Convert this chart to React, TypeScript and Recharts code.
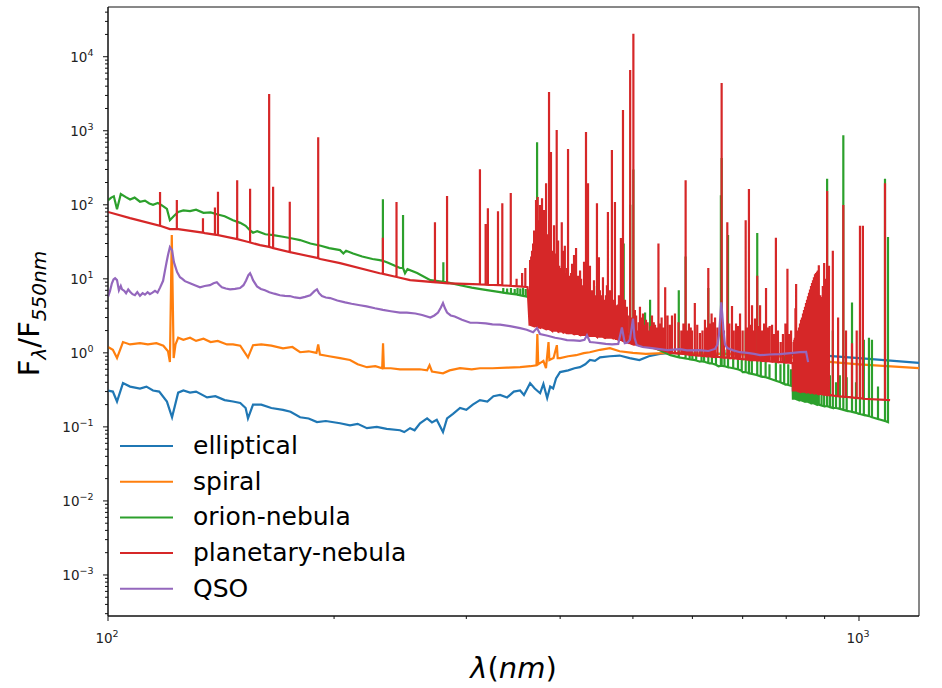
import { LineChart, Line, XAxis, YAxis, Legend, Label, ReferenceArea } from 'recharts'

// wavelength (nm), flux normalised at 550 nm
const ellipticalData: [number, number][] = [
  [100, 0.31], [101.5, 0.3], [102.8, 0.22], [104.7, 0.39], [107, 0.35], [110.3, 0.33], [112.5, 0.35],
  [114.8, 0.31], [117, 0.3], [119.8, 0.22], [121.7, 0.135], [124, 0.29], [126, 0.31], [128.6, 0.29],
  [131, 0.3], [135.5, 0.25], [139, 0.26], [143, 0.23], [146.7, 0.22], [150, 0.21], [152.5, 0.18],
  [153.6, 0.13], [156, 0.2], [160, 0.2], [165, 0.18], [171, 0.17], [175, 0.16], [180.2, 0.135],
  [185, 0.13], [189.8, 0.116], [195, 0.12], [203.7, 0.112], [210, 0.105], [215, 0.11], [221.2, 0.096],
  [228, 0.1], [235, 0.094], [244.8, 0.09], [248, 0.085], [252.5, 0.096], [256, 0.09], [260.3, 0.112],
  [266, 0.13], [270, 0.115], [274, 0.125], [279.3, 0.085], [282.8, 0.13], [288, 0.15], [294.3, 0.18],
  [300, 0.17], [306, 0.2], [312.8, 0.23], [320, 0.22], [326, 0.26], [332.7, 0.27], [340, 0.25],
  [347, 0.3], [353.8, 0.31], [358, 0.27], [364.8, 0.39], [370, 0.33], [376.2, 0.285], [380, 0.38],
  [384.4, 0.245], [388, 0.35], [391.5, 0.33], [395, 0.45], [399.9, 0.55], [410, 0.58], [418, 0.62],
  [425.1, 0.64], [432, 0.7], [438.3, 0.8], [445, 0.78], [452, 0.87], [466, 0.9], [480, 0.92],
  [495, 0.85], [510, 0.8], [525, 0.9], [543, 0.97], [560, 1.0], [600, 0.98], [650, 0.97], [700, 0.98],
  [740, 0.96], [780, 0.95], [834, 0.95], [882, 0.93], [1000, 0.85], [1202, 0.73],
]

const spiralData: [number, number][] = [
  [100, 1.2], [101.5, 1.1], [102.8, 0.85], [104.7, 1.4], [107, 1.3], [110.3, 1.35], [113, 1.3],
  [116, 1.35], [118.5, 1.25], [120.2, 1.05], [120.9, 0.75], [121.6, 39], [122.3, 0.85], [123, 1.3],
  [124, 1.6], [126, 1.5], [128.6, 1.6], [131, 1.45], [134, 1.55], [137, 1.4], [140, 1.45], [144, 1.3],
  [146.7, 1.3], [150, 1.25], [153.6, 0.87], [156, 1.27], [160, 1.3], [165, 1.25], [171, 1.15],
  [176, 1.2], [180.2, 1.02], [185, 1.05], [189.5, 1.0], [190.5, 1.3], [191.5, 0.95], [197, 0.9],
  [203.7, 0.85], [210, 0.8], [215, 0.7], [221.2, 0.64], [227, 0.66], [231.8, 0.62], [232.4, 1.35],
  [233, 0.62], [238, 0.62], [244.8, 0.6], [252, 0.6], [260, 0.6], [266, 0.58], [268, 0.68],
  [270, 0.56], [279.3, 0.53], [285, 0.58], [294.3, 0.62], [305, 0.6], [312.8, 0.62], [325, 0.62],
  [340, 0.63], [353.8, 0.64], [365, 0.66], [372, 0.68], [373, 1.8], [374, 0.7], [380, 0.78],
  [383, 0.62], [386, 1.4], [387, 0.8], [392, 0.85], [396, 1.27], [397, 0.85], [400, 0.85], [410, 0.9],
  [420, 0.93], [430, 0.99], [438, 1.02], [452, 1.1], [466, 1.16], [480, 1.05], [500, 1.0], [520, 0.97],
  [560, 1.0], [600, 0.98], [650, 0.97], [700, 0.95], [750, 0.93], [834, 0.85], [882, 0.78],
  [1000, 0.7], [1202, 0.62],
]

const orionContinuum: [number, number][] = [
  [100, 115], [101, 125], [101.8, 130], [102.8, 87], [104, 140], [105.5, 128], [107, 118],
  [108.5, 125], [110.3, 110], [112, 114], [113.5, 104], [114.8, 100], [116.5, 106], [118, 98],
  [119.8, 88], [120.9, 62], [122.3, 70], [124, 80], [126, 84], [128.6, 82], [131, 86], [134, 78],
  [137, 79], [140, 74], [143, 70], [146.7, 62], [150, 57], [152.5, 52], [154.6, 45], [156, 42],
  [158, 44], [162, 40], [166, 39], [171, 37], [176, 35], [180.2, 33.4], [186, 30], [192, 28],
  [197, 26], [203.7, 24.4], [205.8, 22], [207.5, 24], [212, 22], [218, 20], [225, 18.5], [230, 17.9],
  [236, 16.5], [241, 15], [244.8, 14], [248.6, 11.9], [250.5, 13.5], [258, 12], [268.7, 9.6],
  [275, 9.3], [285, 8.8], [294.3, 8.2], [305, 7.6], [315, 7.2], [332.7, 6.6], [364.8, 5.5],
  [400, 3.9], [438, 2.8], [476, 2.05], [511, 1.45], [535, 1.16], [561, 0.93], [614, 0.76],
  [650, 0.66], [700, 0.55], [750, 0.47], [816, 0.36], [816.6, 0.24], [900, 0.19], [1000, 0.15],
  [1093, 0.116],
]

// emission lines: [wavelength, peak, continuum under the line]
const orionLines: [number, number, number][] = [
  [232.3, 119, 17.5], [247.1, 73, 14], [279.6, 16.8, 9.1],
  [336, 7.5, 6.5], [340, 7.4, 6.4], [344, 7.5, 6.3], [348, 7.3, 6.2], [351, 7.5, 6.1], [354, 7.4, 6.0],
  [357, 7.5, 5.9], [360, 7.3, 5.8], [363, 7.2, 5.6],
  [372.7, 700, 5.1], [388.9, 20, 4.3], [395.8, 15, 4.0], [409.8, 10, 3.6], [433, 12, 2.9],
  [447.8, 8, 2.7], [478, 3.0, 2.0], [483, 3.0, 1.95], [486.1, 30, 1.9], [495.9, 100, 1.75],
  [500.7, 300, 1.65], [519, 3.5, 1.35], [527, 5.2, 1.3], [575.5, 7.0, 0.87], [587.6, 20, 0.84],
  [595, 1.85, 0.82], [600, 1.0, 0.81], [607, 0.95, 0.79], [617, 1.1, 0.77], [622, 0.95, 0.76],
  [630, 7.5, 0.73], [637, 1.0, 0.72], [645, 0.95, 0.69], [654.8, 135, 0.67], [656.3, 430, 0.67],
  [662, 1.1, 0.66], [669.3, 39, 0.64], [680, 0.9, 0.62], [690, 1.0, 0.6], [698, 0.8, 0.57],
  [706.5, 2.0, 0.55], [713.6, 1.5, 0.53], [720, 0.9, 0.52], [732, 41.5, 0.5], [740, 0.8, 0.48],
  [751, 1.2, 0.47], [760, 0.7, 0.45], [775, 1.0, 0.42], [786, 0.7, 0.4], [795, 0.9, 0.38],
  [805, 0.7, 0.37], [812, 0.6, 0.36],
  [819.7, 0.6, 0.24], [822.6, 0.5, 0.24], [826.9, 0.7, 0.235], [832, 0.5, 0.23], [837.1, 0.8, 0.23],
  [842.2, 0.6, 0.225], [847.4, 0.9, 0.22], [852.6, 0.7, 0.22], [857.9, 1.0, 0.215], [863.2, 0.8, 0.21],
  [868.4, 1.2, 0.21], [873.8, 0.9, 0.205], [879.2, 1.5, 0.2], [884.1, 0.8, 0.2], [891.5, 0.6, 0.195],
  [898.7, 1.3, 0.19], [906.9, 225, 0.19], [914.6, 0.5, 0.185], [922.9, 2.0, 0.18], [932, 0.4, 0.18],
  [943, 0.5, 0.175], [953.1, 870, 0.17], [963, 0.47, 0.165], [978.8, 4.8, 0.16], [990.8, 0.4, 0.155],
  [1003, 2.0, 0.15], [1015, 1.5, 0.145], [1031, 1.6, 0.14], [1040.6, 1.5, 0.135], [1060, 0.35, 0.128],
  [1083, 225, 0.12], [1093, 36.6, 0.116],
]

const planetaryContinuum: [number, number][] = [
  [100, 80], [107, 66], [117.3, 52], [120.9, 47], [124, 47], [134.6, 41.5], [148.6, 34.4],
  [159.4, 28.5], [174.6, 23], [191.7, 18.5], [203.7, 16.3], [230, 11.9], [252.5, 9.6], [285.3, 8.7],
  [332.7, 8.2], [362, 7.7], [364.2, 2.4], [408, 1.85], [476, 1.58], [527, 1.2], [560, 1.0],
  [650, 0.88], [816, 0.73], [816.6, 0.31], [1100, 0.23],
]

const planetaryLines: [number, number, number][] = [
  [117.3, 149, 52], [123.5, 116, 47], [133.8, 66, 42], [138.8, 92, 39.5], [140.1, 150, 39],
  [148.6, 215, 34.4], [154.6, 165, 31], [163.9, 3140, 27], [165.9, 175, 26], [174.6, 110, 23],
  [190.5, 820, 19], [232.3, 36, 11.7], [242.2, 109, 10.6], [272.5, 58, 9.0], [282.8, 131, 8.7],
  [312.8, 303, 8.4], [318.3, 55, 8.35], [320.5, 90, 8.3], [330.6, 82, 8.2], [335, 105, 8.15],
  [343.8, 144, 8.05], [350, 10, 7.95], [356, 12, 7.85], [359.5, 14, 7.8],
  [364.8, 17.9, 2.4], [367, 24, 2.35], [369.3, 45, 2.3], [371.5, 116, 2.3], [373.4, 127, 2.25],
  [374.5, 62, 2.25], [376.1, 99, 2.2], [378.4, 123, 2.2], [380.8, 85, 2.15], [383.1, 196, 2.1],
  [385, 40, 2.1], [386.6, 3330, 2.1], [388.9, 515, 2.05], [390.2, 24, 2.0], [392.6, 53, 2.0],
  [395.8, 1020, 2.0], [397.5, 33, 1.95], [399.9, 13, 1.95], [402, 58, 1.95], [403.6, 24, 1.9],
  [405.8, 28, 1.9], [409.8, 566, 1.85], [412.4, 9.6, 1.85], [414.9, 16, 1.85], [417.4, 21, 1.8],
  [420, 26, 1.8], [422.6, 11, 1.8], [425.2, 13, 1.75], [427.8, 8.2, 1.75], [430.4, 17, 1.75],
  [433, 960, 1.75], [435.7, 196, 1.7], [438.3, 15, 1.7], [441, 7, 1.7], [443.7, 9.6, 1.7],
  [446.4, 5.2, 1.7], [447.8, 105, 1.65], [450.5, 19.6, 1.65], [453.3, 6, 1.65], [456.1, 10.5, 1.65],
  [458.9, 5.2, 1.6], [461.7, 8.2, 1.6], [463.1, 80, 1.6], [466, 7, 1.6], [468.8, 550, 1.6],
  [471.7, 5.2, 1.58], [473.2, 109, 1.58], [476.1, 4.4, 1.55], [479, 6, 1.5], [481.9, 35.5, 1.5],
  [485, 1900, 1.45], [488, 5.2, 1.42], [490.8, 4.2, 1.4], [495.8, 6600, 1.35], [500.7, 20400, 1.3],
  [503, 3.8, 1.3], [507.7, 2.0, 1.28], [510.9, 4.2, 1.27], [515.6, 3.4, 1.25], [520.4, 2.8, 1.22],
  [525.2, 2.0, 1.2], [530.1, 3.2, 1.18], [535, 2.4, 1.15], [540.7, 30, 1.12], [546, 3.0, 1.1],
  [552, 7.7, 1.06], [556, 3.2, 1.04], [563.6, 3.2, 1.0], [568.8, 3.4, 0.99], [583.7, 2.5, 0.97],
  [587.7, 215, 0.96], [593.6, 2.5, 0.95], [599.3, 2.0, 0.94], [604.5, 4.7, 0.93], [614.1, 1.85, 0.92],
  [618.8, 2.0, 0.91], [623.6, 2.8, 0.91], [630, 14, 0.9], [632.6, 2.5, 0.9], [636.4, 3.4, 0.89],
  [643.2, 3.0, 0.88], [656.3, 4400, 0.87], [667.8, 58, 0.86], [677.5, 4.3, 0.85], [685.9, 2.5, 0.84],
  [694.4, 3.4, 0.83], [706.5, 62, 0.82], [713.6, 163, 0.81], [720.4, 4.4, 0.8], [727, 2.9, 0.8],
  [732, 11, 0.79], [738.4, 4.4, 0.79], [747.5, 2.5, 0.78], [752, 7.5, 0.77], [760.5, 2.3, 0.77],
  [775.1, 36, 0.76], [786.4, 1.4, 0.75], [803, 13.7, 0.74],
  [818.5, 1.4, 0.31], [821.5, 1.6, 0.31], [824.7, 8.5, 0.31], [826.9, 1.7, 0.31], [832, 2.2, 0.305],
  [837.1, 2.8, 0.3], [842.2, 3.4, 0.3], [847.4, 4.2, 0.3], [852.6, 5.2, 0.295], [857.9, 6.5, 0.295],
  [863.2, 8, 0.29], [868.4, 9.6, 0.29], [873.8, 11.5, 0.285], [879.2, 12.5, 0.285], [884.1, 15.3, 0.28],
  [891.5, 5.7, 0.28], [898.7, 16.3, 0.275], [906.9, 153, 0.27], [912, 15, 0.27], [922.9, 24, 0.265],
  [938, 3, 0.26], [953.1, 99, 0.255], [961, 2, 0.255], [978.8, 1.35, 0.25], [993, 2, 0.245],
  [1003, 52, 0.245], [1012, 52, 0.24], [1083, 196, 0.232],
]

// the weaker, densely packed lines that fill the optical and Paschen forests
const planetaryWeakLines: [number, number, number][] = [
  [366, 20, 2.37], [368.2, 30, 2.32], [370.4, 40, 2.3], [372.5, 60, 2.28], [375.3, 45, 2.22],
  [377.2, 50, 2.2], [379.6, 40, 2.18], [382, 35, 2.12], [384, 30, 2.1], [387.7, 25, 2.07],
  [389.6, 20, 2.03], [391.4, 18, 2.0], [394, 22, 2.0], [396.7, 18, 1.98], [398.7, 15, 1.95],
  [401, 14, 1.95], [402.8, 12, 1.92], [404.7, 15, 1.9], [407, 12, 1.88], [408.6, 14, 1.86],
  [411, 11, 1.85], [413.7, 12, 1.85], [416.2, 10, 1.82], [418.7, 12, 1.8], [421.3, 10, 1.8],
  [423.9, 9, 1.78], [426.5, 10, 1.75], [429.1, 8, 1.75], [431.7, 9, 1.75], [434.4, 8, 1.72],
  [437, 9, 1.7], [439.6, 7, 1.7], [442.3, 6.5, 1.7], [445, 6, 1.7], [449.2, 6, 1.65],
  [451.9, 7, 1.65], [454.7, 5.5, 1.65], [457.5, 5, 1.62], [460.3, 6, 1.6], [462.4, 4.5, 1.6],
  [464.5, 6, 1.6], [467.4, 4.5, 1.6], [470.2, 5, 1.58], [474.6, 4, 1.56], [477.5, 4.5, 1.52],
  [480.4, 3.8, 1.5], [483.4, 4.2, 1.48], [486.6, 3.5, 1.44], [489.3, 3.6, 1.41], [492.3, 3.2, 1.38],
  [498.4, 3.0, 1.32], [505, 3.2, 1.29], [509, 2.6, 1.27], [513, 3.0, 1.26], [518, 2.4, 1.23],
  [523, 2.6, 1.21], [528, 2.3, 1.19], [533, 2.6, 1.16], [538, 2.2, 1.13], [543, 2.5, 1.11],
  [549, 2.2, 1.08], [560, 2.4, 1.0], [575, 2.6, 0.98], [580, 2.0, 0.97], [591, 2.0, 0.95],
  [597, 2.2, 0.94], [609, 2.4, 0.92], [626, 2.2, 0.9], [640, 2.6, 0.88], [648, 2.2, 0.88],
  [661, 2.0, 0.86], [672, 2.5, 0.85], [681, 2.0, 0.84], [690, 2.3, 0.83], [700, 2.0, 0.82],
  [710, 2.2, 0.81], [716, 2.4, 0.8], [724, 2.0, 0.8], [735, 2.3, 0.79], [743, 2.0, 0.78],
  [756, 2.2, 0.77], [766, 2.4, 0.76], [770, 1.8, 0.76], [780, 2.0, 0.75], [792, 1.8, 0.75],
  [798, 2.5, 0.74], [808, 1.8, 0.74], [812, 2.0, 0.73],
  [820, 1.5, 0.31], [823, 4, 0.31], [825.8, 1.8, 0.31], [829.5, 2.0, 0.305], [834.5, 2.5, 0.3],
  [839.6, 3.0, 0.3], [844.8, 3.8, 0.3], [850, 4.7, 0.295], [855.2, 5.8, 0.295], [860.5, 7.2, 0.29],
  [865.8, 8.8, 0.29], [871, 10.5, 0.285], [876.5, 12, 0.285], [881.6, 13, 0.28], [887.8, 6, 0.28],
  [895, 8, 0.275], [902, 10, 0.272],
]

const qsoData: [number, number][] = [
  [100, 5.7], [100.6, 6.8], [101.2, 8.7], [101.7, 9.8], [102.2, 10.2], [102.8, 9.6], [103.4, 7.0],
  [104, 8.0], [104.4, 7.2], [105.1, 6.9], [105.7, 6.4], [106.4, 7.2], [107, 6.7], [107.8, 6.2],
  [108.6, 6.0], [109.4, 6.6], [110.3, 5.9], [111.2, 6.4], [112, 6.1], [112.9, 6.6], [113.7, 6.2],
  [114.6, 6.5], [115.5, 6.9], [116.4, 6.5], [117.3, 7.6], [118.4, 9.4], [119.1, 13], [119.7, 17],
  [120.2, 21], [120.9, 26.8], [121.7, 24.4], [122.4, 16.8], [123.6, 12.3], [124.7, 10.5], [125.6, 10.0],
  [126.6, 9.3], [128.6, 8.7], [130.5, 8.2], [132.6, 7.7], [134.5, 8.0], [136.7, 8.2], [138.2, 8.7],
  [139.6, 9.0], [140.6, 8.3], [141.8, 7.7], [143.5, 7.4], [145.4, 7.2], [147.6, 7.3], [149.9, 7.5],
  [151.5, 8.2], [152.7, 9.5], [153.8, 11.2], [154.6, 11.9], [155.3, 10.8], [156, 9.6], [157.9, 7.9],
  [159.8, 7.3], [161.8, 7.0], [164, 6.6], [166.5, 6.3], [169.4, 6.0], [172, 5.9], [174.6, 5.85],
  [177.4, 5.6], [180.2, 5.5], [183, 5.7], [185.9, 6.0], [188.3, 6.8], [189.8, 7.2], [191, 6.4],
  [192.7, 5.85], [195, 5.6], [197.6, 5.5], [202, 5.1], [206.9, 4.8], [211, 4.6], [216.5, 4.4],
  [221, 4.25], [226.7, 4.0], [232.3, 3.8], [238, 3.65], [244.8, 3.5], [250, 3.5], [256.6, 3.4],
  [262, 3.25], [268.7, 3.0], [272, 3.2], [275.1, 3.5], [277.5, 4.1], [279.3, 4.7], [281, 4.0],
  [282.8, 3.5], [286, 3.2], [289.5, 3.1], [296, 2.8], [303.7, 2.55], [310, 2.55], [318.5, 2.5],
  [325, 2.42], [332.7, 2.4], [343, 2.3], [353.8, 2.16], [361, 2.05], [368.2, 1.9], [372.6, 2.16],
  [376.1, 1.8], [385, 1.7], [393.8, 1.6], [401, 1.55], [408.5, 1.49], [417, 1.47], [425, 1.45],
  [431, 1.5], [434.3, 1.73], [438.3, 1.4], [445, 1.38], [452, 1.35], [460, 1.32], [469, 1.3],
  [478, 1.32], [483.4, 2.2], [487.7, 1.35], [492, 1.38], [495.4, 1.5], [500.1, 2.9], [502.5, 1.6],
  [505.9, 1.27], [515, 1.2], [530, 1.16], [555.7, 1.09], [577.7, 1.12], [590, 1.08], [614.1, 1.09],
  [630, 1.06], [643, 1.13], [648, 1.3], [651, 1.73], [653.5, 3.0], [655.5, 4.8], [657.5, 3.4],
  [660, 2.0], [663, 1.3], [668, 1.16], [680, 1.08], [694.4, 1.02], [710, 1.0], [725, 0.97],
  [738.4, 0.93], [760, 0.95], [785.1, 0.96], [810, 0.99], [834.8, 1.02], [850.3, 1.03], [855.6, 0.75],
]

const xMajorTicks = [100, 1000]
const xMinorTicks = [200, 300, 400, 500, 600, 700, 800, 900]
const yDecades = [-4, -3, -2, -1, 0, 1, 2, 3, 4]
const yMultipliers = [1, 2, 3, 4, 5, 6, 7, 8, 9]
const X_DOMAIN: [number, number] = [100, 1202]
const Y_DOMAIN: [number, number] = [2.79e-4, 46950]

const toPoints = (arr: [number, number][]) => arr.map(([w, f]) => ({ w, f }))

// continuum + emission lines (each line drawn base -> peak -> base)
function spectrum(cont: [number, number][], lines: [number, number, number][]) {
  const pts: { w: number; f: number }[] = cont.map(([w, f]) => ({ w, f }))
  lines.forEach(([w, peak, base]) => {
    pts.push({ w, f: base }, { w, f: peak }, { w, f: base })
  })
  return pts.sort((a, b) => a.w - b.w)
}

const yTicks = yDecades
  .flatMap(d => yMultipliers.map(m => Number((m * Math.pow(10, d)).toPrecision(3))))
  .filter(v => v >= Y_DOMAIN[0] && v <= Y_DOMAIN[1])
const xTicks = [...xMajorTicks, ...xMinorTicks].sort((a, b) => a - b)

const isMajor = (v: number) => Math.abs(Math.log10(v) - Math.round(Math.log10(v))) < 1e-6
const expLabel = (v: number) => {
  const e = Math.round(Math.log10(v))
  return e < 0 ? `\u2212${-e}` : `${e}`
}

const FONT = '"DejaVu Sans", sans-serif'

const XTick = ({ x, y, payload }: any) => {
  const major = isMajor(payload.value)
  return (
    <g>
      <line x1={x} x2={x} y1={y} y2={y + (major ? 5 : 3)} stroke="#111" strokeWidth={1} />
      {major && (
        <text x={x - 1} y={y + 27} textAnchor="middle" fontSize={13.5} fill="#222" fontFamily={FONT}>
          10<tspan dy={-6} fontSize={9.5}>{expLabel(payload.value)}</tspan>
        </text>
      )}
    </g>
  )
}

const YTick = ({ x, y, payload }: any) => {
  const major = isMajor(payload.value)
  return (
    <g>
      <line x1={x - (major ? 5 : 3)} x2={x} y1={y} y2={y} stroke="#111" strokeWidth={1} />
      {major && (
        <text x={x - 14.5} y={y + 5} textAnchor="end" fontSize={13.5} fill="#222" fontFamily={FONT}>
          10<tspan dy={-6} fontSize={9.5}>{expLabel(payload.value)}</tspan>
        </text>
      )}
    </g>
  )
}

const XTitle = ({ viewBox }: any) => (
  <text x={viewBox.x + viewBox.width / 2} y={viewBox.y + 62} textAnchor="middle" fontSize={29}
    fontFamily={FONT} fill="#000">
    <tspan fontStyle="italic">λ</tspan>(<tspan fontStyle="italic">nm</tspan>)
  </text>
)

const YTitle = ({ viewBox }: any) => {
  const cx = 39
  const cy = viewBox.y + viewBox.height / 2 + 2
  return (
    <text x={cx} y={cy} transform={`rotate(-90, ${cx}, ${cy})`} textAnchor="middle" fontSize={29}
      fontFamily={FONT} fill="#000">
      F<tspan dy={7} fontSize={20} fontStyle="italic">λ</tspan>
      <tspan dy={-7}>/F</tspan>
      <tspan dy={7} fontSize={20} fontStyle="italic">550nm</tspan>
    </text>
  )
}

const series = [
  { name: 'elliptical', color: '#1f77b4', data: toPoints(ellipticalData) },
  { name: 'spiral', color: '#ff7f0e', data: toPoints(spiralData) },
  { name: 'orion-nebula', color: '#2ca02c', data: spectrum(orionContinuum, orionLines) },
  {
    name: 'planetary-nebula', color: '#d62728',
    data: spectrum(planetaryContinuum, [...planetaryLines, ...planetaryWeakLines]),
  },
  { name: 'QSO', color: '#9467bd', data: toPoints(qsoData) },
]

// keep the plotting order in the legend (Recharts would sort it by name)
const LegendBox = () => (
  <svg width={330} height={180} style={{ display: 'block' }}>
    {series.map((s, i) => {
      const cy = 18 + i * 35.7
      return (
        <g key={s.name}>
          <line x1={10} x2={63} y1={cy} y2={cy} stroke={s.color} strokeWidth={2} />
          <text x={83} y={cy + 8} fontSize={25} fontFamily={FONT} fill="#000">{s.name}</text>
        </g>
      )
    })}
  </svg>
)

export default function App() {
  return (
    <div style={{ position: 'absolute', left: 0, top: 0, background: '#fff' }}>
      <LineChart width={942} height={688} margin={{ top: 7, right: 23, bottom: 12, left: 8 }}>
        <XAxis dataKey="w" type="number" scale="log" domain={X_DOMAIN} allowDataOverflow
          ticks={xTicks} interval={0} tick={<XTick />} tickLine={false} tickSize={0} tickMargin={0}
          height={60} axisLine={{ stroke: '#111' }}>
          <Label content={<XTitle />} />
        </XAxis>
        <YAxis type="number" scale="log" domain={Y_DOMAIN} allowDataOverflow ticks={yTicks}
          interval={0} tick={<YTick />} tickLine={false} tickSize={0} tickMargin={0} width={100}
          axisLine={{ stroke: '#111' }}>
          <Label content={<YTitle />} />
        </YAxis>
        <ReferenceArea x1={X_DOMAIN[0]} x2={X_DOMAIN[1]} y1={Y_DOMAIN[0]} y2={Y_DOMAIN[1]}
          fill="none" stroke="#111" strokeWidth={1} ifOverflow="visible" />
        {series.map(s => (
          <Line key={s.name} data={s.data} dataKey="f" name={s.name} stroke={s.color}
            strokeWidth={2.2} dot={false} activeDot={false} isAnimationActive={false} type="linear" />
        ))}
        <Legend layout="vertical" align="center" verticalAlign="middle" content={<LegendBox />}
          wrapperStyle={{ left: 110, top: 428, width: 330, height: 180 }} />
      </LineChart>
    </div>
  )
}
